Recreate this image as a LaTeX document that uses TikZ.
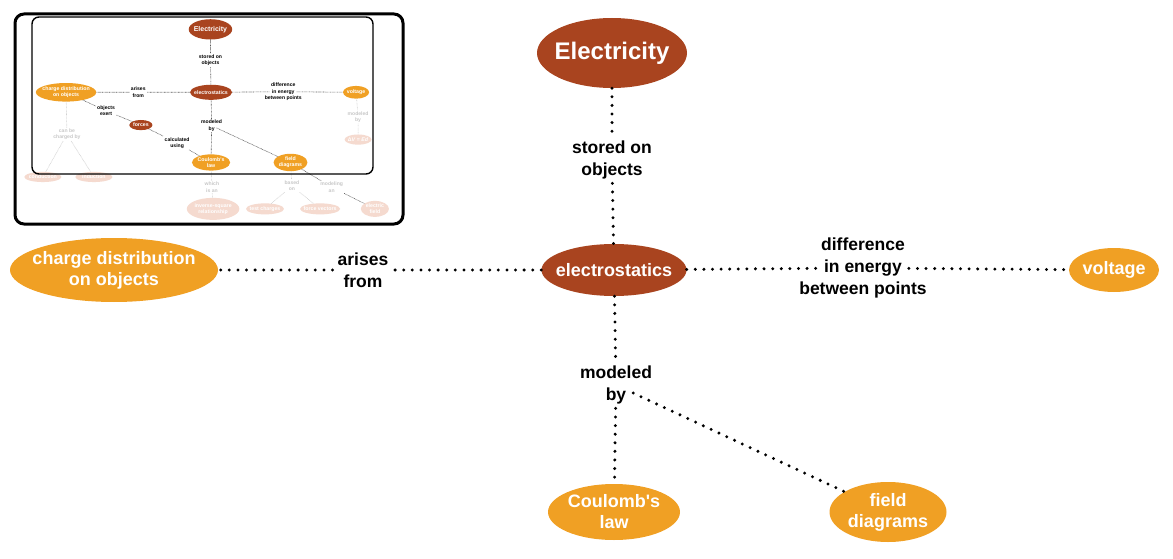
\documentclass[tikz,border=0pt]{standalone}
\usepackage{fontspec}
\setmainfont{Liberation Sans}[Ligatures=TeXOff]
\usetikzlibrary{shapes.geometric}
\definecolor{rust}{RGB}{169,68,31}
\definecolor{amber}{RGB}{240,160,36}
\definecolor{blush}{RGB}{245,218,207}
\definecolor{mist}{RGB}{200,200,200}

\begin{document}
\begin{tikzpicture}[x=1pt, y=-1pt,
  topic/.style = {ellipse, fill=amber, text=white, inner sep=0pt, align=center, font=\bfseries\fontsize{18}{21}\selectfont},
  core/.style = {topic, fill=rust},
  faded/.style = {topic, fill=blush},
  link/.style = {fill=white, align=center, inner xsep=5pt, inner ysep=4pt, font=\bfseries\fontsize{17.5}{22}\selectfont},
  hint/.style = {link, text=mist},
  rel/.style = {line width=3.3pt, line cap=round, dash pattern=on 0pt off 8.6pt},
  mini/.style = {line width=0.6pt, dash pattern=on 0.7pt off 0.7pt, black!65},
  minihint/.style = {mini, black!18}]
	\useasboundingbox (0,0) rectangle (1173,559);
	\node[core, minimum width=150pt, minimum height=70pt, inner xsep=-5pt, font=\bfseries\fontsize{24}{28}\selectfont] (elec) at (612,53) {Electricity};
	\node[link] (stored) at (612,160) {stored on\\objects};
	\node[core, minimum width=145pt, minimum height=52pt, inner xsep=-7pt] (es) at (614,270) {electrostatics};
	\node[topic, minimum width=208pt, minimum height=64pt, inner xsep=-12pt] (charge) at (114,270) {charge distribution\\on objects};
	\node[link] (arises) at (363,270) {arises\\from};
	\node[link, inner xsep=-18pt] (diff) at (863,268) {difference\\in energy\\between points};
	\node[topic, minimum width=90pt, minimum height=44pt] (volt) at (1114,270) {voltage};
	\node[link] (modeled) at (616,385) {modeled\\by};
	\node[topic, minimum width=132pt, minimum height=56pt, inner xsep=-2pt] (coul) at (614,512) {Coulomb's\\law};
	\node[topic, minimum width=117pt, minimum height=60pt] (field) at (888,512) {field\\diagrams};
	\draw[rel] (elec) -- (stored) -- (es);
	\draw[rel] (es) -- (arises) -- (charge);
	\draw[rel] (es) -- (diff) -- (volt);
	\draw[rel] (es) -- (modeled) -- (coul);
	\draw[rel, shorten <=19pt] (modeled.center) -- (field);
	\draw[line width=3pt, rounded corners=9pt, fill=white] (15,14) rectangle (403,224);
	\begin{scope}[shift={(33,14)}, scale=0.29, transform shape]
		\node[core, minimum width=150pt, minimum height=70pt, inner xsep=-5pt, font=\bfseries\fontsize{24}{28}\selectfont] (mElec) at (612,53) {Electricity};
		\node[link] (mStored) at (612,160) {stored on\\objects};
		\node[core, minimum width=145pt, minimum height=52pt, inner xsep=-7pt] (mEs) at (614,270) {electrostatics};
		\node[topic, minimum width=208pt, minimum height=64pt, inner xsep=-12pt] (mCharge) at (114,270) {charge distribution\\on objects};
		\node[link] (mArises) at (363,270) {arises\\from};
		\node[link, inner xsep=-18pt] (mDiff) at (863,268) {difference\\in energy\\between points};
		\node[topic, minimum width=90pt, minimum height=44pt] (mVolt) at (1114,270) {voltage};
		\node[link] (mExert) at (252,334) {objects\\exert};
		\node[core, minimum width=80pt, minimum height=35pt] (mForces) at (372,383) {forces};
		\node[link] (mCalc) at (497,445) {calculated\\using};
		\node[link] (mModeled) at (616,385) {modeled\\by};
		\node[topic, minimum width=132pt, minimum height=56pt, inner xsep=-2pt] (mCoul) at (614,512) {Coulomb's\\law};
		\node[topic, minimum width=117pt, minimum height=60pt] (mField) at (888,512) {field\\diagrams};
		\node[hint] (mVModeled) at (1121,355) {modeled\\by};
		\node[faded, minimum width=93pt, minimum height=35pt, inner xsep=-6pt] (mDV) at (1121,433) {Δ\textit{V} = \textit{Ed}};
		\node[hint] (mCanBe) at (117,415) {can be\\charged by};
		\node[faded, minimum width=128pt, minimum height=35pt, inner xsep=-4pt] (mCond) at (34,562) {conduction};
		\node[faded, minimum width=128pt, minimum height=35pt, inner xsep=-2pt] (mInd) at (210,562) {induction};
		\node[hint] (mWhich) at (617,597) {which\\is an};
		\node[faded, minimum width=172pt, minimum height=76pt] (mInv) at (621,672) {inverse-square\\relationship};
		\node[hint] (mBased) at (893,593) {based\\on};
		\node[hint] (mModAn) at (1030,597) {modeling\\an};
		\node[faded, minimum width=131pt, minimum height=38pt, inner xsep=-7pt] (mTest) at (800,672) {test charges};
		\node[faded, minimum width=138pt, minimum height=38pt, inner xsep=-10pt] (mFV) at (990,672) {force vectors};
		\node[faded, minimum width=97pt, minimum height=55pt, inner xsep=-2pt] (mEF) at (1179,672) {electric\\field};
		\draw[mini] (mElec) -- (mStored) -- (mEs);
		\draw[mini] (mEs) -- (mArises) -- (mCharge);
		\draw[mini] (mEs) -- (mDiff) -- (mVolt);
		\draw[mini] (mEs) -- (mModeled) -- (mCoul);
		\draw[mini, shorten <=5.5pt] (mModeled.center) -- (mField);
		\draw[mini] (mCharge) -- (mExert) -- (mForces) -- (mCalc) -- (mCoul);
		\draw[mini] (mField) -- (mModAn) -- (mEF);
		\draw[minihint] (mVolt) -- (mVModeled) -- (mDV);
		\draw[minihint] (mCharge) -- (mCanBe);
		\draw[minihint] (mCanBe) -- (mCond);
		\draw[minihint] (mCanBe) -- (mInd);
		\draw[minihint] (mCoul) -- (mWhich) -- (mInv);
		\draw[minihint] (mField) -- (mBased);
		\draw[minihint] (mBased) -- (mTest);
		\draw[minihint] (mBased) -- (mFV);
	\end{scope}
	\draw[line width=1.4pt, rounded corners=7pt] (32,17) rectangle (373,174);
\end{tikzpicture}
\end{document}
